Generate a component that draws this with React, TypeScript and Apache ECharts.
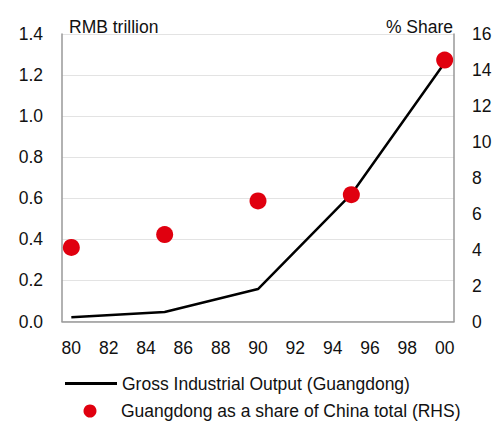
import React, { useEffect, useRef } from "react";
import * as echarts from "echarts";

const years = ["80","81","82","83","84","85","86","87","88","89","90","91","92","93","94","95","96","97","98","99","00"];
const obsYears = ["80", "85", "90", "95", "00"];
const outputValues = [0.021, 0.046, 0.158, 0.62, 1.26];
const shareValues = [4.12, 4.84, 6.71, 7.06, 14.55];
const leftTicks = { min: 0, max: 1.4, interval: 0.2 };
const rightTicks = { min: 0, max: 16, interval: 2 };
const seriesNames = ["Gross Industrial Output (Guangdong)", "Guangdong as a share of China total (RHS)"];

const FONT = "'Liberation Sans', Arial, sans-serif";
const FS = 17.5;
const RED = "#e0000f";

export default function App() {
  const ref = useRef<HTMLDivElement>(null);
  useEffect(() => {
    if (!ref.current) return;
    const chart = echarts.init(ref.current, null, { renderer: "svg" });
    const lineData = obsYears.map((y, i) => [y, outputValues[i]]);
    const dotData = obsYears.map((y, i) => [y, shareValues[i]]);
    chart.setOption({
      animation: false,
      textStyle: { fontFamily: FONT },
      grid: { left: 62, right: 50, top: 34, bottom: 101.5 },
      xAxis: {
        type: "category",
        data: years,
        boundaryGap: true,
        axisLine: { lineStyle: { color: "#999", width: 1.5 } },
        axisTick: { show: false },
        axisLabel: { interval: 1, color: "#111", fontSize: FS, margin: 17, fontFamily: FONT },
      },
      yAxis: [
        {
          type: "value",
          ...leftTicks,
          axisLine: { show: true, lineStyle: { color: "#999", width: 1.5 } },
          axisTick: { show: false },
          splitLine: { lineStyle: { color: "#e3e3e3", width: 1 } },
          axisLabel: { color: "#111", fontSize: FS, margin: 19, fontFamily: FONT, formatter: (v: number) => v.toFixed(1) },
        },
        {
          type: "value",
          ...rightTicks,
          position: "right",
          axisLine: { show: true, lineStyle: { color: "#999", width: 1.5 } },
          axisTick: { show: false },
          splitLine: { show: false },
          axisLabel: { color: "#111", fontSize: FS, margin: 18, fontFamily: FONT },
        },
      ],
      legend: [
        {
          left: 65,
          top: 374.5,
          padding: 0,
          icon: "rect",
          itemWidth: 52,
          itemHeight: 3,
          itemGap: 5,
          textStyle: { fontSize: FS, color: "#111", fontFamily: FONT },
          data: [{ name: seriesNames[0], itemStyle: { color: "#000" } }],
        },
        {
          left: 83.5,
          top: 402,
          padding: 0,
          icon: "circle",
          itemWidth: 52,
          itemHeight: 13,
          itemGap: 5,
          textStyle: { fontSize: FS, color: "#111", fontFamily: FONT },
          data: [{ name: seriesNames[1] }],
        },
      ],
      graphic: [
        { type: "text", left: 69, top: 17.5, style: { text: "RMB trillion", fontSize: FS, fill: "#111", fontFamily: FONT } },
        { type: "text", right: 51, top: 17.5, style: { text: "% Share", fontSize: FS, fill: "#111", fontFamily: FONT } },
      ],
      series: [
        {
          name: seriesNames[0],
          type: "line",
          data: lineData,
          yAxisIndex: 0,
          symbol: "none",
          connectNulls: true,
          lineStyle: { color: "#000", width: 2.5 },
          itemStyle: { color: "#000" },
          z: 2,
        },
        {
          name: seriesNames[1],
          type: "scatter",
          data: dotData,
          yAxisIndex: 1,
          symbol: "circle",
          symbolSize: 17,
          itemStyle: { color: RED, opacity: 1 },
          emphasis: { disabled: true },
          z: 3,
        },
      ],
    });
    return () => chart.dispose();
  }, []);
  return <div ref={ref} style={{ width: 504, height: 423, position: "absolute", left: 0, top: 0 }} />;
}
